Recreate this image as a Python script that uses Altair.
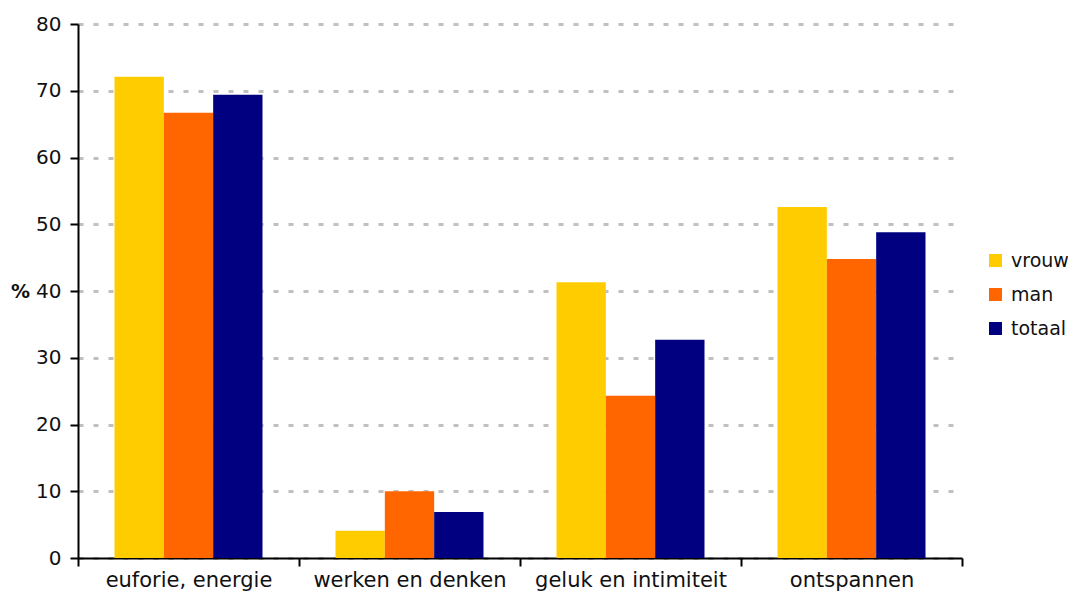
import altair as alt
import pandas as pd

categories = ["euforie, energie", "werken en denken", "geluk en intimiteit", "ontspannen"]
groups = ["vrouw", "man", "totaal"]
vrouw = [72.1, 4.1, 41.3, 52.6]
man = [66.7, 10.0, 24.3, 44.8]
totaal = [69.4, 6.9, 32.7, 48.8]
colors = ["#FFCC00", "#FF6600", "#000080"]
y_ticks = [0, 10, 20, 30, 40, 50, 60, 70, 80]

rows = []
for series_name, series in zip(groups, [vrouw, man, totaal]):
    for cat, val in zip(categories, series):
        rows.append({"categorie": cat, "groep": series_name, "waarde": val})
df = pd.DataFrame(rows)

FONT = "DejaVu Sans"

bars = alt.Chart(df).mark_bar().encode(
    x=alt.X("categorie:N", sort=categories,
            scale=alt.Scale(paddingInner=0, paddingOuter=0),
            axis=alt.Axis(title=None, labelAngle=0, tickBand="extent",
                          domainColor="black", domainWidth=2,
                          tickColor="black", tickWidth=2, tickSize=8,
                          labelFont=FONT, labelFontSize=21, labelColor="#111111",
                          labelPadding=3, labelLimit=400, grid=False)),
    xOffset=alt.XOffset("groep:N", sort=groups,
                        scale=alt.Scale(paddingInner=0, paddingOuter=0.74)),
    y=alt.Y("waarde:Q",
            scale=alt.Scale(domain=[0, 80], nice=False),
            axis=alt.Axis(values=y_ticks, title="%", titleAngle=0,
                          titleX=-58, titleY=267, titleAlign="center",
                          titleBaseline="middle", titleFont=FONT,
                          titleFontSize=19, titleFontWeight="bold",
                          titleColor="#111111",
                          domainColor="black", domainWidth=2,
                          tickColor="black", tickWidth=2, tickSize=8,
                          labelFont=FONT, labelFontSize=20, labelColor="#111111",
                          labelPadding=9,
                          grid=True, gridColor="#c0c0c0", gridWidth=3,
                          gridDash=[5, 10])),
    color=alt.Color("groep:N", sort=groups,
                    scale=alt.Scale(domain=groups, range=colors),
                    legend=alt.Legend(title=None, orient="none",
                                      legendX=908, legendY=227,
                                      symbolType="square", symbolSize=169,
                                      symbolStrokeWidth=0, labelOffset=6,
                                      labelFont=FONT, labelFontSize=19,
                                      labelColor="#111111", labelLimit=200,
                                      rowPadding=14, padding=0)),
)

chart = bars.properties(
    width=884, height=534,
    autosize=alt.AutoSizeParams(type="none"),
    padding={"left": 70, "top": 16, "right": 106, "bottom": 35},
).configure_view(stroke=None).configure_axisY(zindex=0).configure_axisX(zindex=1)

chart.save("out.html", embed_options={"renderer": "svg", "actions": False})
